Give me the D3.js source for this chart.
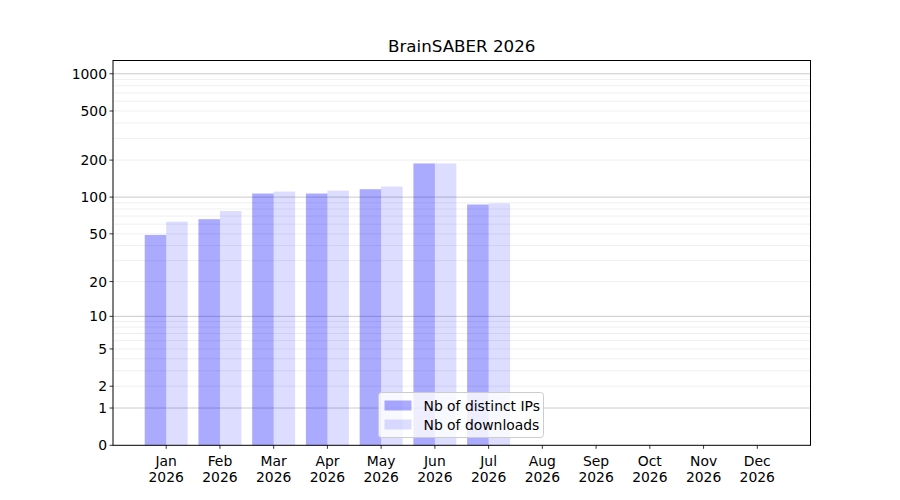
<!DOCTYPE html>
<html lang="en">
<head>
    <meta charset="UTF-8">
    <script src="https://d3js.org/d3.v7.min.js"></script>
    <title>BrainSABER 2026</title>
    <style>
        body { margin: 0; background: #fff; }
        text { font-family: "DejaVu Sans", sans-serif; fill: #000; }
    </style>
</head>
<body>
    <svg id="chart" width="900" height="500"></svg>

    <script>
        // data
        const months = ["Jan", "Feb", "Mar", "Apr", "May", "Jun", "Jul", "Aug", "Sep", "Oct", "Nov", "Dec"];
        const year = "2026";
        const distinctIPs = [49, 66, 107, 107, 116, 188, 87, 0, 0, 0, 0, 0];
        const downloads = [63, 77, 111, 113, 122, 188, 89, 0, 0, 0, 0, 0];
        const yTicks = [0, 1, 2, 5, 10, 20, 50, 100, 200, 500, 1000];
        const seriesNames = ["Nb of distinct IPs", "Nb of downloads"];

        const svg = d3.select("#chart");
        const plotLeft = 113, plotRight = 810.5, plotTop = 60.5, plotBottom = 445.3;
        const fs = 13.9;

        // y is log10(v + 1)
        const yLog = d3.scaleLinear()
            .domain([0, Math.log10(1281)])
            .range([plotBottom, plotTop]);
        const y = v => yLog(Math.log10(v + 1));

        const x = d3.scaleLinear()
            .domain([-0.99, 11.99])
            .range([plotLeft, plotRight]);
        const barW = 0.4;

        // grid lines: minor first, then majors
        const minor = [];
        [1, 10, 100, 1000].forEach(d => {
            for (let m = 2; m <= 9; m++) minor.push(d * m);
        });
        svg.append("g").selectAll("line")
            .data(minor.filter(v => y(v) > plotTop))
            .join("line")
            .attr("x1", plotLeft).attr("x2", plotRight)
            .attr("y1", d => y(d)).attr("y2", d => y(d))
            .attr("stroke", "#ebebeb").attr("stroke-width", 0.8);
        svg.append("g").selectAll("line")
            .data([1, 10, 100, 1000])
            .join("line")
            .attr("x1", plotLeft).attr("x2", plotRight)
            .attr("y1", d => y(d)).attr("y2", d => y(d))
            .attr("stroke", "#c4c4c4").attr("stroke-width", 0.9);

        // bars
        svg.append("g").selectAll("rect")
            .data(distinctIPs)
            .join("rect")
            .attr("x", (d, i) => x(i - barW))
            .attr("width", x(barW) - x(0))
            .attr("y", d => y(d))
            .attr("height", d => plotBottom - y(d))
            .attr("fill", "blue").attr("fill-opacity", 0.333);

        svg.append("g").selectAll("rect")
            .data(downloads)
            .join("rect")
            .attr("x", (d, i) => x(i))
            .attr("width", x(barW) - x(0))
            .attr("y", d => y(d))
            .attr("height", d => plotBottom - y(d))
            .attr("fill", "blue").attr("fill-opacity", 0.133);

        // frame
        svg.append("rect")
            .attr("x", plotLeft).attr("y", plotTop)
            .attr("width", plotRight - plotLeft).attr("height", plotBottom - plotTop)
            .attr("fill", "none").attr("stroke", "#000").attr("stroke-width", 1);

        // y axis
        const yAxis = svg.append("g");
        yAxis.selectAll("line")
            .data(yTicks)
            .join("line")
            .attr("x1", plotLeft - 3.5).attr("x2", plotLeft)
            .attr("y1", d => y(d)).attr("y2", d => y(d))
            .attr("stroke", "#000").attr("stroke-width", 0.8);
        yAxis.selectAll("text")
            .data(yTicks)
            .join("text")
            .attr("x", plotLeft - 6)
            .attr("y", d => y(d))
            .attr("dy", "0.36em")
            .attr("text-anchor", "end")
            .attr("font-size", fs)
            .text(d => d);

        // x axis
        const xAxis = svg.append("g");
        xAxis.selectAll("line")
            .data(months)
            .join("line")
            .attr("x1", (d, i) => x(i)).attr("x2", (d, i) => x(i))
            .attr("y1", plotBottom).attr("y2", plotBottom + 3.5)
            .attr("stroke", "#000").attr("stroke-width", 0.8);
        const xl = xAxis.selectAll("text")
            .data(months)
            .join("text")
            .attr("text-anchor", "middle")
            .attr("font-size", fs);
        xl.append("tspan")
            .attr("x", (d, i) => x(i)).attr("y", plotBottom + 21)
            .text(d => d);
        xl.append("tspan")
            .attr("x", (d, i) => x(i)).attr("y", plotBottom + 37)
            .text(year);

        // title
        svg.append("text")
            .attr("x", (plotLeft + plotRight) / 2)
            .attr("y", 52)
            .attr("text-anchor", "middle")
            .attr("font-size", 16.7)
            .text("BrainSABER " + year);

        // legend
        const lg = svg.append("g").attr("transform", "translate(378.5,392.5)");
        lg.append("rect")
            .attr("width", 165).attr("height", 45)
            .attr("rx", 3)
            .attr("fill", "#fff").attr("fill-opacity", 0.8)
            .attr("stroke", "#cccccc").attr("stroke-width", 1);
        const items = lg.selectAll("g")
            .data(seriesNames)
            .join("g")
            .attr("transform", (d, i) => `translate(6,${8 + i * 19})`);
        items.append("rect")
            .attr("width", 27).attr("height", 10)
            .attr("fill", "blue")
            .attr("fill-opacity", (d, i) => i === 0 ? 0.333 : 0.133);
        items.append("text")
            .attr("x", 39).attr("y", 5)
            .attr("dy", "0.36em")
            .attr("font-size", fs)
            .text(d => d);
    </script>
</body>
</html>
